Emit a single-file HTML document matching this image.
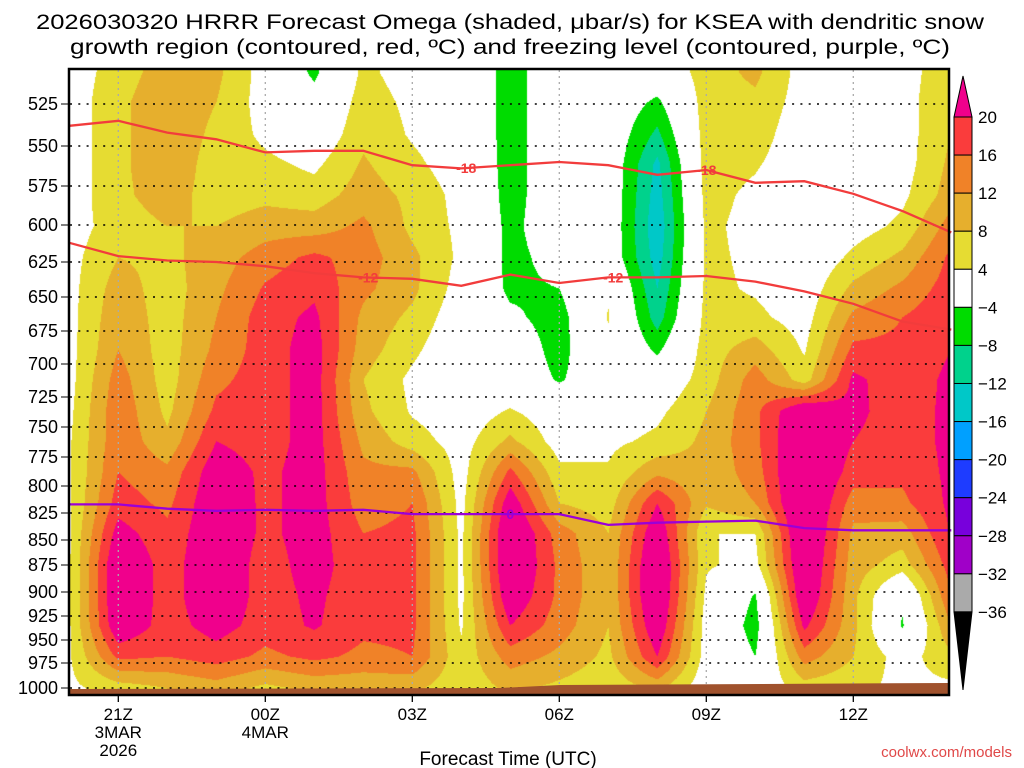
<!DOCTYPE html>
<html><head><meta charset="utf-8"><style>
html,body{margin:0;padding:0;background:#fff;width:1024px;height:768px;overflow:hidden}
#wrap{position:relative;width:1024px;height:768px}
#field{position:absolute;left:70px;top:69px}
#svg{position:absolute;left:0;top:0}
text{font-family:"Liberation Sans",sans-serif}
</style></head><body>
<div id="wrap">
<canvas id="field" width="880" height="626"></canvas>
<svg id="svg" width="1024" height="768" xmlns="http://www.w3.org/2000/svg">
<g>
<text x="510" y="29" text-anchor="middle" font-size="21" textLength="948" lengthAdjust="spacingAndGlyphs">2026030320 HRRR Forecast Omega (shaded, μbar/s) for KSEA with dendritic snow</text>
<text x="510" y="54" text-anchor="middle" font-size="21" textLength="880" lengthAdjust="spacingAndGlyphs">growth region (contoured, red, ºC) and freezing level (contoured, purple, ºC)</text>
</g>
<g id="grid"></g>
<g id="ground"></g>
<g id="lines"></g>
<rect x="69" y="69" width="880" height="626" fill="none" stroke="#000" stroke-width="2.5"/>
<g id="yaxis"></g>
<g id="xaxis"></g>
<text x="508" y="765" text-anchor="middle" font-size="19">Forecast Time (UTC)</text>
<text x="1012" y="757" text-anchor="end" font-size="15" fill="#e04848">coolwx.com/models</text>
<g id="cbar"></g>
</svg>
</div>
<script>
// ---- data ----
const hours = ["20Z","21Z","22Z","23Z","00Z","01Z","02Z","03Z","04Z","05Z","06Z","07Z","08Z","09Z","10Z","11Z","12Z","13Z","14Z"];
const pressures = [506,524,543,561,581,601,622,644,665,689,712,737,762,788,816,844,875,904,935,968,1000];
const tickHours = [1,4,7,10,13,16];
const tickLabels = ["21Z","00Z","03Z","06Z","09Z","12Z"];
const tickSub1 = ["3MAR","4MAR","","","",""];
const tickSub2 = ["2026","","","","",""];
const yTicks = [525,550,575,600,625,650,675,700,725,750,775,800,825,850,875,900,925,950,975,1000];
// omega per hour column (top -> bottom, at the pressures above)
const omega = [
[1.5,1.5,1.5,1.5,1.5,2,2.5,2.5,2.5,2.5,2.5,3,3.5,3.5,3.5,3.5,3.5,3.5,3.5,3.5,3],
[6,7,7,7,7,6,8,10,11,12,14,15,15,16,18,22,25,25,24,17,6],
[10,11,11,11,10,8,7,6,6,6,6,7,9,13,15,17,18,18,18,16,8],
[9,8,7,6,6,8,10,11,12,13,15,17,20,23,24,24,24,24,22,18,10],
[2,2,3,5,7,10,14,16.5,18,18,18,18,18,19,19,19,18,18,18,15,7],
[-5,-2,0,3,6,10,17,19,21,22,22,22,22,22,22,22,22,21,20.5,17,9],
[5,6,7,8.5,10,13,14,13,11,10,8,9,11,13,14,16,17,17,17,15,9],
[2,3,3.5,5,7,7,9,9,7,5,3,3.5,6,13,16,17,17,17,17,16,9],
[1,1,1,1.5,2.5,3,3,2,1,0,0,1,2,2,2.5,3,3,3,3.5,5,5],
[-6,-6,-6,-6,-6,-5.5,-5.5,-5,-3,0,0,4.5,9,17,23,26,26,24,20,14,9],
[0,0,0,0,0,0,-2,-4,-6,-6,-4.5,1,2,5,8,14,15,15,14,11,7],
[0,0,0,0,0,0,0,3.5,4.3,3,0,1,3,4.5,6,8,8.5,8.5,8,7,5],
[0,-5,-9,-13,-14,-15,-14,-12,-10,-5,0,3,5,11,20,24,26,26,24,20,9],
[6,6,6,6,5.5,5,5,5,5.5,6,6,8,9,9,8.5,4,4.5,3,2,2,1],
[9,7,6,4.5,3,2.5,3,3.5,5,10,14,15,15,14,12,4,2.5,-4.5,-6,-4,0],
[2,2,1,1,0,0,0,1,2,3.5,6,25,26,27,27,27,26,25,21,14,6],
[0,0,0,0.5,1,2,5,9,13,17,21,21,20,18,14,11,10,9,9,8,5],
[2,2,2,2,3,5,9,13,16,17,17.5,18,18,17,15,10,6,-3,-4.5,2,3],
[7,8,8,9,10,14,17,18,19,20,21,21,21,21,21,20.5,18,16,12,7,3]
];
// contour lines: pressure (hPa) at each hour
const dgzTop = [538,535,542,546,554,553,553,562,564,562,560,562,568,565,573,572,580,591,605];
const dgzBottom = [612,621,624,625,628,633,636,637,642,634,640,636,636,635,639,646,655,668,674];
const freezing = [817,817,821,823,822,823,822,826,826,826,826,836,834,833,832,839,841,841,841];
const cbLevels = [20,16,12,8,4,-4,-8,-12,-16,-20,-24,-28,-32,-36];
// axis calibration (pressure level -> pixel row of reference axis)
const axisP = [500,525,550,575,600,625,650,675,700,725,750,775,800,825,850,875,900,925,950,975,1000];
const axisY = [62,104,146,186,225,262,297,331,364,397,427,457,486,513,540,565,592,616,640,663,688];

// ---- axes ----
const X = h => 69.3 + 49*h;
function Y(p){
  for(let i=0;i<axisP.length-1;i++){
    if(p<=axisP[i+1]||i===axisP.length-2){
      return axisY[i]+(p-axisP[i])/(axisP[i+1]-axisP[i])*(axisY[i+1]-axisY[i]);
    }
  }
}
const colors = [[240,0,140],[250,60,60],[240,130,40],[230,175,45],[230,220,50],[255,255,255],[0,220,0],[0,210,140],[0,200,200],[0,160,255],[30,60,255],[120,0,220],[160,0,200],[170,170,170],[0,0,0]];
function colorIdx(v){
  if(v>=20)return 0;if(v>=16)return 1;if(v>=12)return 2;if(v>=8)return 3;if(v>=4)return 4;
  if(v>-4)return 5;if(v>-8)return 6;if(v>-12)return 7;if(v>-16)return 8;if(v>-20)return 9;
  if(v>-24)return 10;if(v>-28)return 11;if(v>-32)return 12;if(v>-36)return 13;return 14;
}
// shading
(function(){
  const cv=document.getElementById('field'),ctx=cv.getContext('2d');
  const W=cv.width,H=cv.height,img=ctx.createImageData(W,H),d=img.data;
  const nh=hours.length-1,np=pressures.length-1;
  const rowY=pressures.map(Y);
  for(let j=0;j<H;j++){
    const py=69+j+0.5;
    let r0=0,fr=0;
    if(py<=rowY[0]){r0=0;fr=0;}
    else if(py>=rowY[np]){r0=np-1;fr=1;}
    else{for(let k=0;k<np;k++){if(py<=rowY[k+1]){r0=k;fr=(py-rowY[k])/(rowY[k+1]-rowY[k]);break;}}}
    for(let i=0;i<W;i++){
      const px=70+i+0.5;
      let h=(px-X(0))/49;h=Math.max(0,Math.min(nh,h));
      const h0=Math.min(nh-1,Math.floor(h)),fh=h-h0;
      const v=(omega[h0][r0]*(1-fh)+omega[h0+1][r0]*fh)*(1-fr)+(omega[h0][r0+1]*(1-fh)+omega[h0+1][r0+1]*fh)*fr;
      const c=colors[colorIdx(v)],k=(j*W+i)*4;
      d[k]=c[0];d[k+1]=c[1];d[k+2]=c[2];d[k+3]=255;
    }
  }
  ctx.putImageData(img,0,0);
})();
const NS='http://www.w3.org/2000/svg';
function mk(tag,attrs,parent){const e=document.createElementNS(NS,tag);for(const k in attrs)e.setAttribute(k,attrs[k]);parent.appendChild(e);return e;}
// ground
const gG=document.getElementById('ground');
const gp=mk('polygon',{points:`70,689 500,688 560,685 949,683 949,694 70,694`,fill:'#a0522d'},gG);


// grid
const grid=document.getElementById('grid');
yTicks.forEach(p=>{
  const l=mk('line',{x1:70,x2:949,y1:Y(p),y2:Y(p),stroke:'#000','stroke-width':1.5,'stroke-dasharray':'2,6.3'},grid);
  
  
});
tickHours.forEach((h,i)=>{
  const l=mk('line',{x1:X(h),x2:X(h),y1:70,y2:694,stroke:'#aaa','stroke-width':1.3,'stroke-dasharray':'2,4'},grid);
  
  
});
// contour lines
const lines=document.getElementById('lines');
function drawLine(arr,color,name){
  const pts=arr.map((p,h)=>X(h).toFixed(1)+','+Y(p).toFixed(1)).join(' ');
  const l=mk('polyline',{points:pts,fill:'none',stroke:color,'stroke-width':2.3},lines);
  
  
}
drawLine(dgzTop,'#f23c3c','contour-minus18');
drawLine(dgzBottom,'#f23c3c','contour-minus12');
drawLine(freezing,'#9a00d8','contour-freezing');
function label(txt,h,arr,color,name){
  const h0=Math.floor(h),f=h-h0;
  const x=X(h),y=Y(arr[h0]*(1-f)+arr[h0+1]*f);
  const t=mk('text',{x:x,y:y+5,'text-anchor':'middle','font-size':14,'font-weight':'bold',fill:color},lines);
  t.textContent=txt;
  
  
}
label('-18',8.1,dgzTop,'#f23c3c','label-minus18-a');
label('-18',13.0,dgzTop,'#f23c3c','label-minus18-b');
label('-12',6.1,dgzBottom,'#f23c3c','label-minus12-a');
label('-12',11.1,dgzBottom,'#f23c3c','label-minus12-b');
label('0',9.0,freezing,'#9a00d8','label-freezing');
// y axis
const ya=document.getElementById('yaxis');
yTicks.forEach(p=>{
  const t=mk('text',{x:58,y:Y(p)+6,'text-anchor':'end','font-size':18},ya);
  t.textContent=p;
  
  
  const tk=mk('line',{x1:61,x2:68,y1:Y(p),y2:Y(p),stroke:'#000','stroke-width':1},ya);
  
  
});
// x axis
const xa=document.getElementById('xaxis');
tickHours.forEach((h,i)=>{
  const tk=mk('line',{x1:X(h),x2:X(h),y1:695,y2:702,stroke:'#000','stroke-width':1.3},xa);
  
  
  [[tickLabels[i],720],[tickSub1[i],738],[tickSub2[i],756]].forEach(([s,yy],k)=>{
    if(!s)return;
    const t=mk('text',{x:X(h),y:yy,'text-anchor':'middle','font-size':17},xa);
    t.textContent=s;
    
    
  });
});
// colorbar
const cb=document.getElementById('cbar');
const cbTop=117,cbStep=38.07,cx0=954,cx1=972;
const upA=mk('polygon',{points:`${cx0},${cbTop} ${cx1},${cbTop} ${(cx0+cx1)/2},76`,fill:'rgb(240,0,140)',stroke:'#000','stroke-width':1},cb);


for(let i=0;i<cbLevels.length-1;i++){
  const c=colors[i+1];
  const r=mk('rect',{x:cx0,y:cbTop+i*cbStep,width:cx1-cx0,height:cbStep,fill:`rgb(${c[0]},${c[1]},${c[2]})`,stroke:'#000','stroke-width':1},cb);
  
  
}
const bot=cbTop+(cbLevels.length-1)*cbStep;
const dnA=mk('polygon',{points:`${cx0},${bot} ${cx1},${bot} ${(cx0+cx1)/2},690`,fill:'#000',stroke:'#000','stroke-width':1},cb);


cbLevels.forEach((v,i)=>{
  const t=mk('text',{x:978,y:cbTop+i*cbStep+6,'font-size':17},cb);
  t.textContent=v<0?'\u2212'+(-v):String(v);
  
  
});
</script>
</body></html>
